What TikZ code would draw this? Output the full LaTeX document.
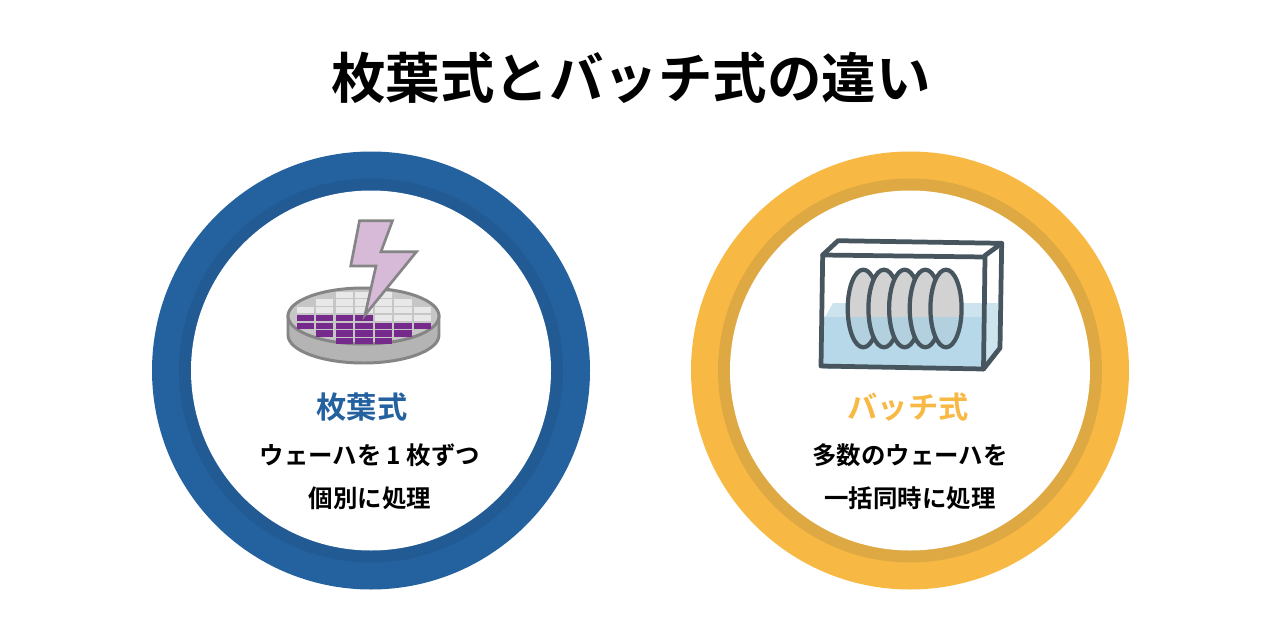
\documentclass[tikz,border=0pt]{standalone}
\usepackage{fontspec}
\setmainfont{Noto Sans CJK JP}[BoldFont={Noto Sans CJK JP Bold}]
\newcommand{\pxlen}{0.5690pt}
\definecolor{bluering}{HTML}{24619F}
\definecolor{bluedark}{HTML}{225A94}
\definecolor{yelring}{HTML}{F8B944}
\definecolor{yeldark}{HTML}{DEA943}
\definecolor{boltfill}{HTML}{D6BAD8}
\definecolor{waferline}{HTML}{858585}
\definecolor{wafertop}{HTML}{C6C6C6}
\definecolor{waferside}{HTML}{B4B4B4}
\definecolor{cellgray}{HTML}{E8E8E8}
\definecolor{cellpurple}{HTML}{752A8C}
\definecolor{tankline}{HTML}{46555E}
\definecolor{waterfront}{HTML}{B7D8E8}
\definecolor{waterback}{HTML}{CDE4EE}
\definecolor{discgray}{HTML}{D2D2D2}
\definecolor{discwater}{HTML}{B3D0DE}
\tikzset{
  ttl/.style={font=\fontsize{31}{36}\selectfont\bfseries,text=black,inner sep=0pt},
  head/.style={font=\fontsize{17.2}{20}\selectfont\bfseries,inner sep=0pt},
  body/.style={font=\fontsize{13.9}{16}\selectfont\bfseries,text=black,inner sep=0pt},
  cellg/.style={fill=cellgray,draw=none},
  cellp/.style={fill=cellpurple,draw=none},
  waferedge/.style={draw=waferline,line width=1.7pt},
  tankedge/.style={draw=tankline,line width=2.7pt,line join=round,line cap=round},
  discedge/.style={draw=tankline,line width=2.4pt}
}
\newcommand{\cell}[3]{%
  \pgfmathsetmacro{\cx}{296.7+19.55*#1}%
  \pgfmathsetmacro{\cy}{291.7+7.75*#2}%
  \fill[#3] (\cx,\cy) rectangle ++(17.2,6.2);}
\newcommand{\disc}[1]{%
  \fill[discgray] (#1,308.5) ellipse [x radius=15.6,y radius=38.8];
  \begin{scope}
    \clip (#1-30,317) rectangle (#1+30,360);
    \fill[discwater] (#1,308.5) ellipse [x radius=15.6,y radius=38.8];
  \end{scope}
  \draw[discedge] (#1,308.5) ellipse [x radius=15.6,y radius=38.8];}
\begin{document}
\begin{tikzpicture}[x=\pxlen,y=-\pxlen]
\useasboundingbox (0,0) rectangle (1280,640);
\fill[white] (0,0) rectangle (1280,640);
\node[ttl] (title) at (631,78) {枚葉式とバッチ式の違い};
% left ring
\fill[bluering] (371,370.5) circle [radius=219];
\fill[bluedark] (371,370.5) circle [radius=192];
\fill[white] (371,370.5) circle [radius=180];
% right ring
\fill[yelring] (910,370.5) circle [radius=219];
\fill[yeldark] (910,370.5) circle [radius=192];
\fill[white] (910,370.5) circle [radius=180];
% wafer
\path[fill=waferside,waferedge] (288,316) -- (288,335) arc [start angle=180,end angle=0,x radius=75.5,y radius=28] -- (439,316) -- cycle;
\path[fill=wafertop,waferedge] (363.5,316) ellipse [x radius=75.5,y radius=28];
\foreach \c/\r in {0/2,1/1,1/2,2/0,2/1,2/2,3/0,3/1,3/2,4/0,4/1,4/2,4/3,5/1,5/2,5/3,6/2,6/3}{\cell{\c}{\r}{cellg}}
\foreach \c/\r in {0/3,1/3,2/3,3/3,0/4,1/4,2/4,3/4,4/4,5/4,6/4,1/5,2/5,3/5,4/5,5/5,2/6,3/6,4/6}{\cell{\c}{\r}{cellp}}
\path[fill=boltfill,draw=waferline,line width=1.5pt,line join=miter] (359.5,220.7) -- (392.5,220.7) -- (381,251.7) -- (416.5,251.7) -- (365,315) -- (376,266) -- (350.7,266) -- cycle;
% tank
\fill[waterback] (825,317) -- (833,303) -- (998,303) -- (985,317) -- cycle;
\fill[waterfront] (823,317) rectangle (985,369);
\fill[waterback] (985,317) -- (998,303) -- (998,348) -- (985,368) -- cycle;
\disc{863.3}\disc{884}\disc{904.7}\disc{925.3}\disc{946}
\path[tankedge] (822.7,255) -- (838,240.7) -- (1001.7,243.3) -- (985,255.5);
\path[tankedge] (1001.7,243.3) -- (1000,348) -- (983.5,369);
\path[tankedge] (822.7,255) -- (985,257) -- (983.5,369) -- (821,366) -- cycle;
% text
\node[head,text=bluering] (lefthead) at (362,407) {枚葉式};
\node[body] (leftone) at (370,455) {ウェーハを 1 枚ずつ};
\node[body] (lefttwo) at (370,498) {個別に処理};
\node[head,text=yelring] (righthead) at (908,407) {バッチ式};
\node[body] (rightone) at (910,455) {多数のウェーハを};
\node[body] (righttwo) at (910,498) {一括同時に処理};
\end{tikzpicture}
\end{document}
